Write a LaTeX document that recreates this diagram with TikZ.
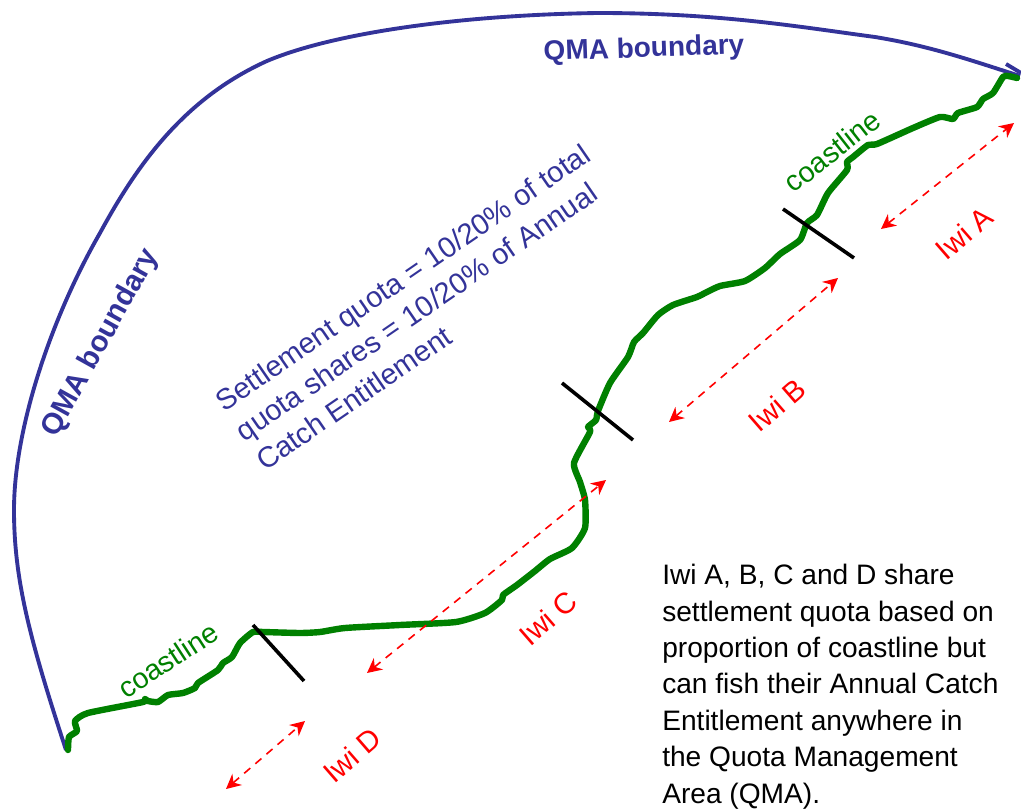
\documentclass[tikz,border=0pt]{standalone}
\usepackage{fontspec}
\setmainfont{Liberation Sans}
\usetikzlibrary{arrows.meta}
\definecolor{qblue}{HTML}{333399}
\definecolor{qgreen}{HTML}{008000}
\tikzset{
  x=0.75pt,y=-0.75pt,
  coast/.style={draw=qgreen,line width=4.8pt,line join=round,line cap=round},
  bound/.style={draw=qblue,line width=2.9pt},
  sep/.style={draw=black,line width=2.7pt},
  share/.style={draw=red,line width=1.2pt,dash pattern=on 6pt off 5pt,{Stealth[length=11pt,width=11pt]}-{Stealth[length=11pt,width=11pt]}},
  iwi/.style={text=red,font=\fontsize{22}{26}\selectfont,inner sep=0pt},
  coastlbl/.style={text=qgreen,font=\fontsize{21.5}{25}\selectfont,inner sep=0pt},
  qma/.style={text=qblue,font=\fontsize{21}{25}\selectfont\bfseries,inner sep=0pt},
}
\begin{document}
\begin{tikzpicture}
\useasboundingbox (0,0) rectangle (1021,809);
% QMA boundary
\draw[bound] (66,750) .. controls (30,640) and (14,580) .. (14,510)
  .. controls (14,430) and (50,320) .. (100,233)
  .. controls (138,163) and (185,98) .. (267,61)
  .. controls (333,33) and (460,15) .. (598,13)
  .. controls (720,13) and (800,27) .. (875,37)
  .. controls (930,46) and (970,60) .. (1020,76);
\coordinate (tipa) at (1006,64);
\coordinate (tipb) at (1021,73);
\draw[bound] (tipa) -- (tipb);
% coastline
\draw[coast] plot[smooth,tension=0.35] coordinates {(68,750) (69,737) (77,731) (75,721) (88,713) (143,702) (145,699) (148,701) (158,702) (168,695) (183,693) (195,688) (198,683) (218,670) (223,663) (232,657) (240,643) (253,632) (263,632) (300,633) (320,632) (345,628) (400,625) (456,622) (485,613) (502,600) (503,595) (517,585) (535,571) (550,559) (572,548) (585,528) (585,500) (580,482) (574,463) (590,432) (588,427) (596,420) (598,411) (610,383) (628,357) (634,342) (643,333) (658,315) (673,305) (697,297) (705,293) (720,286) (745,281) (765,268) (780,254) (800,240) (807,223) (817,215) (828,193) (847,170) (847,162) (853,157) (868,145) (877,144) (913,128) (940,117) (953,119) (958,113) (977,107) (983,99) (993,93) (1003,77) (1008,76) (1017,78)};
% separators
\coordinate (s1a) at (783,209); \coordinate (s1b) at (854,258);
\coordinate (s2a) at (562,383); \coordinate (s2b) at (633,440);
\coordinate (s3a) at (253,625); \coordinate (s3b) at (304,681);
\draw[sep] (s1a) -- (s1b);
\draw[sep] (s2a) -- (s2b);
\draw[sep] (s3a) -- (s3b);
% share arrows
\coordinate (a1) at (881,229); \coordinate (a2) at (1014,123);
\coordinate (b1) at (669,422); \coordinate (b2) at (838,278);
\coordinate (c1) at (367,673); \coordinate (c2) at (606,480);
\coordinate (d1) at (226,789); \coordinate (d2) at (305,721);
\draw[share] (a1) -- (a2);
\draw[share] (b1) -- (b2);
\draw[share] (c1) -- (c2);
\draw[share] (d1) -- (d2);
% labels
\node[iwi,rotate=41] (la) at (964,233) {Iwi A};
\node[iwi,rotate=41] (lb) at (777,405) {Iwi B};
\node[iwi,rotate=41] (lc) at (548,618) {Iwi C};
\node[iwi,rotate=41] (ld) at (352,755) {Iwi D};
\node[coastlbl,rotate=38] (c1l) at (832,151) {coastline};
\node[coastlbl,rotate=33] (c2l) at (168,660) {coastline};
\node[qma,rotate=2] (q1) at (644,50) {QMA boundary};
\node[qma,rotate=61,font=\fontsize{22}{27}\selectfont\bfseries] (q2) at (101,343) {QMA boundary};
\node[text=qblue,rotate=34.5,align=left,inner sep=0pt,font=\fontsize{21.8}{27}\selectfont] (st) at (423,307) {Settlement quota = 10/20\% of total\\quota shares = 10/20\% of Annual\\Catch Entitlement};
\node[anchor=north west,align=left,inner sep=0pt,font=\fontsize{21.1}{27.3}\selectfont] (body) at (662,564) {Iwi A, B, C and D share\\settlement quota based on\\proportion of coastline but\\can fish their Annual Catch\\Entitlement anywhere in\\the Quota Management\\Area (QMA).};
\end{tikzpicture}
\end{document}
